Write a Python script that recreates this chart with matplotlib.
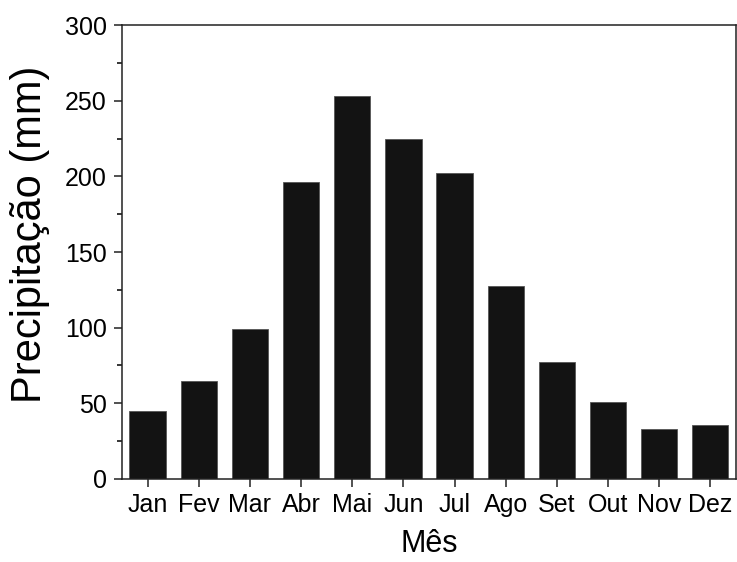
import matplotlib.pyplot as plt
from matplotlib.ticker import MultipleLocator

plt.rcParams['font.family'] = ['Liberation Sans', 'DejaVu Sans']

# precipitação média mensal
meses = ["Jan", "Fev", "Mar", "Abr", "Mai", "Jun", "Jul", "Ago", "Set", "Out", "Nov", "Dez"]
precip = [45, 65, 99, 196, 253, 224.5, 202.5, 127.5, 77, 51, 33, 35.5]

fig = plt.figure(figsize=(7.37, 5.62), dpi=100)
ax = fig.add_axes([0.1655, 0.1477, 0.833, 0.8078])

x = range(len(meses))
ax.bar(x, precip, width=0.71, color="#131313", edgecolor="#555555", linewidth=0.6)

ax.set_xlim(-0.5, 11.5)
ax.set_ylim(0, 300)
ax.set_xticks(list(x))
ax.set_xticklabels(meses)
ax.yaxis.set_major_locator(MultipleLocator(50))
ax.yaxis.set_minor_locator(MultipleLocator(25))

ax.tick_params(axis="both", which="major", direction="out", length=6, width=1.1,
               labelsize=18, color="#222222")
ax.tick_params(axis="y", which="minor", direction="out", length=3.5, width=1.1)
ax.tick_params(axis="x", which="major", pad=4)
ax.tick_params(axis="y", which="major", pad=5)
ax.tick_params(top=False, right=False)

for s in ax.spines.values():
    s.set_linewidth(1.1)
    s.set_color("#222222")

ax.set_xlabel("Mês", fontsize=22, labelpad=9)
ax.set_ylabel("Precipitação (mm)", fontsize=30)
ax.yaxis.set_label_coords(-0.118, 0.54)

fig.savefig("out.png", dpi=100)
